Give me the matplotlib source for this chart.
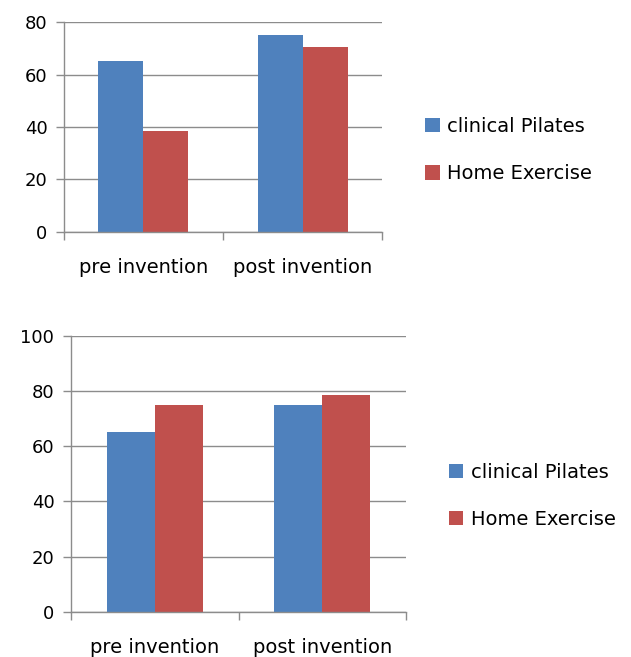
import numpy as np
import matplotlib
matplotlib.use("Agg")
import matplotlib.pyplot as plt
from matplotlib.ticker import FixedLocator

#%%----- data ---------------------------------------------------------------
categories = ['pre invention', 'post invention']
series = ['clinical Pilates', 'Home Exercise']

top_pilates = [65, 75]
top_home = [38.5, 70.5]

bottom_pilates = [65, 75]
bottom_home = [75, 78.7]

blue = '#4F81BD'
red = '#C0504D'
grid_c = '#8C8C8C'

plt.rcParams['font.family'] = 'DejaVu Sans'


def style_axes(ax, ymax):
    x = np.arange(len(categories))
    ax.set_xlim(-0.5, len(categories) - 0.5)
    ax.set_ylim(0, ymax)
    ax.set_yticks(np.arange(0, ymax + 1, 20))
    ax.yaxis.grid(True, color=grid_c, lw=1.0)
    ax.set_axisbelow(True)
    for s in ['top', 'right']:
        ax.spines[s].set_visible(False)
    for s in ['left', 'bottom']:
        ax.spines[s].set_color(grid_c)
        ax.spines[s].set_linewidth(1.0)
    # ticks at the category boundaries, labels in the middle
    ax.xaxis.set_major_locator(FixedLocator(np.arange(-0.5, len(categories), 1.0)))
    ax.set_xticklabels([])
    ax.xaxis.set_minor_locator(FixedLocator(x))
    ax.set_xticklabels(categories, minor=True)
    ax.tick_params(axis='x', which='major', length=6, color=grid_c, width=1)
    ax.tick_params(axis='x', which='minor', length=0, pad=19, labelsize=14)
    ax.tick_params(axis='y', length=6, color=grid_c, width=1, labelsize=13, pad=6)


fig = plt.figure(figsize=(6.31, 6.57), dpi=100)
x = np.arange(len(categories))

#%%----- top chart ------------------------------------------------------------
ax1 = fig.add_axes([0.1014, 0.6469, 0.504, 0.3196])
w = 0.283
ax1.bar(x - w / 2, top_pilates, w, color=blue, label=series[0])
ax1.bar(x + w / 2, top_home, w, color=red, label=series[1])
style_axes(ax1, 80)
ax1.legend(loc='center left', bbox_to_anchor=(1.08, 0.39), frameon=False,
           fontsize=14, handlelength=0.75, handleheight=0.75,
           handletextpad=0.4, labelspacing=1.45)

#%%----- bottom chart ---------------------------------------------------------
ax2 = fig.add_axes([0.1125, 0.069, 0.531, 0.4196])
w = 0.287
ax2.bar(x - w / 2, bottom_pilates, w, color=blue, label=series[0])
ax2.bar(x + w / 2, bottom_home, w, color=red, label=series[1])
style_axes(ax2, 100)
ax2.legend(loc='center left', bbox_to_anchor=(1.075, 0.42), frameon=False,
           fontsize=14, handlelength=0.75, handleheight=0.75,
           handletextpad=0.4, labelspacing=1.45)

plt.savefig('out.png', dpi=100)
